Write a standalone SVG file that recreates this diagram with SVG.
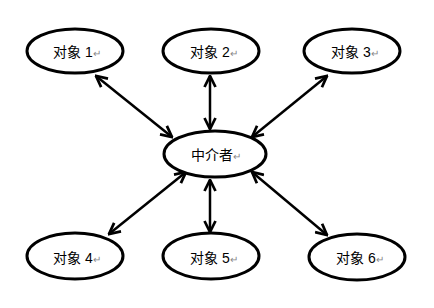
<svg xmlns="http://www.w3.org/2000/svg" width="434" height="308" viewBox="0 0 434 308">
<defs>
<style>
.n ellipse{fill:#fff;stroke:#000;stroke-width:3}
.t{font-family:"Liberation Sans","Noto Sans CJK SC",sans-serif;font-size:14px;fill:#000}
.r{fill:#888;font-size:10px}
.c line{stroke:#000;stroke-width:2.5}
</style>
<marker id="a" viewBox="0 0 10 10" refX="9" refY="5" markerWidth="5.5" markerHeight="5.5" orient="auto-start-reverse" markerUnits="strokeWidth">
<polyline points="1,1 9,5 1,9" fill="none" stroke="#000" stroke-width="2"/>
</marker>
</defs>
<rect width="434" height="308" fill="#fff"/>
<g class="c" id="connectors">
<line x1="96" y1="76" x2="172" y2="137" marker-start="url(#a)" marker-end="url(#a)"/>
<line x1="210" y1="76" x2="210" y2="129" marker-start="url(#a)" marker-end="url(#a)"/>
<line x1="327" y1="76" x2="252" y2="137" marker-start="url(#a)" marker-end="url(#a)"/>
<line x1="186" y1="172" x2="109" y2="234" marker-start="url(#a)" marker-end="url(#a)"/>
<line x1="210" y1="180" x2="210" y2="232" marker-start="url(#a)" marker-end="url(#a)"/>
<line x1="252" y1="172" x2="327" y2="235" marker-start="url(#a)" marker-end="url(#a)"/>
</g>
<g class="n" id="obj1"><ellipse cx="75" cy="51" rx="48" ry="22"/><text class="t" x="53" y="57">对象 1<tspan class="r">↵</tspan></text></g>
<g class="n" id="obj2"><ellipse cx="211" cy="51" rx="48" ry="22"/><text class="t" x="190" y="57">对象 2<tspan class="r">↵</tspan></text></g>
<g class="n" id="obj3"><ellipse cx="352" cy="51" rx="48" ry="22"/><text class="t" x="331" y="57">对象 3<tspan class="r">↵</tspan></text></g>
<g class="n" id="mediator"><ellipse cx="215" cy="154" rx="51" ry="23"/><text class="t" x="191" y="160">中介者<tspan class="r">↵</tspan></text></g>
<g class="n" id="obj4"><ellipse cx="75" cy="256" rx="48" ry="23"/><text class="t" x="53" y="263">对象 4<tspan class="r">↵</tspan></text></g>
<g class="n" id="obj5"><ellipse cx="211" cy="256" rx="48" ry="23"/><text class="t" x="190" y="263">对象 5<tspan class="r">↵</tspan></text></g>
<g class="n" id="obj6"><ellipse cx="357" cy="257" rx="48" ry="23"/><text class="t" x="336" y="263">对象 6<tspan class="r">↵</tspan></text></g>
</svg>
